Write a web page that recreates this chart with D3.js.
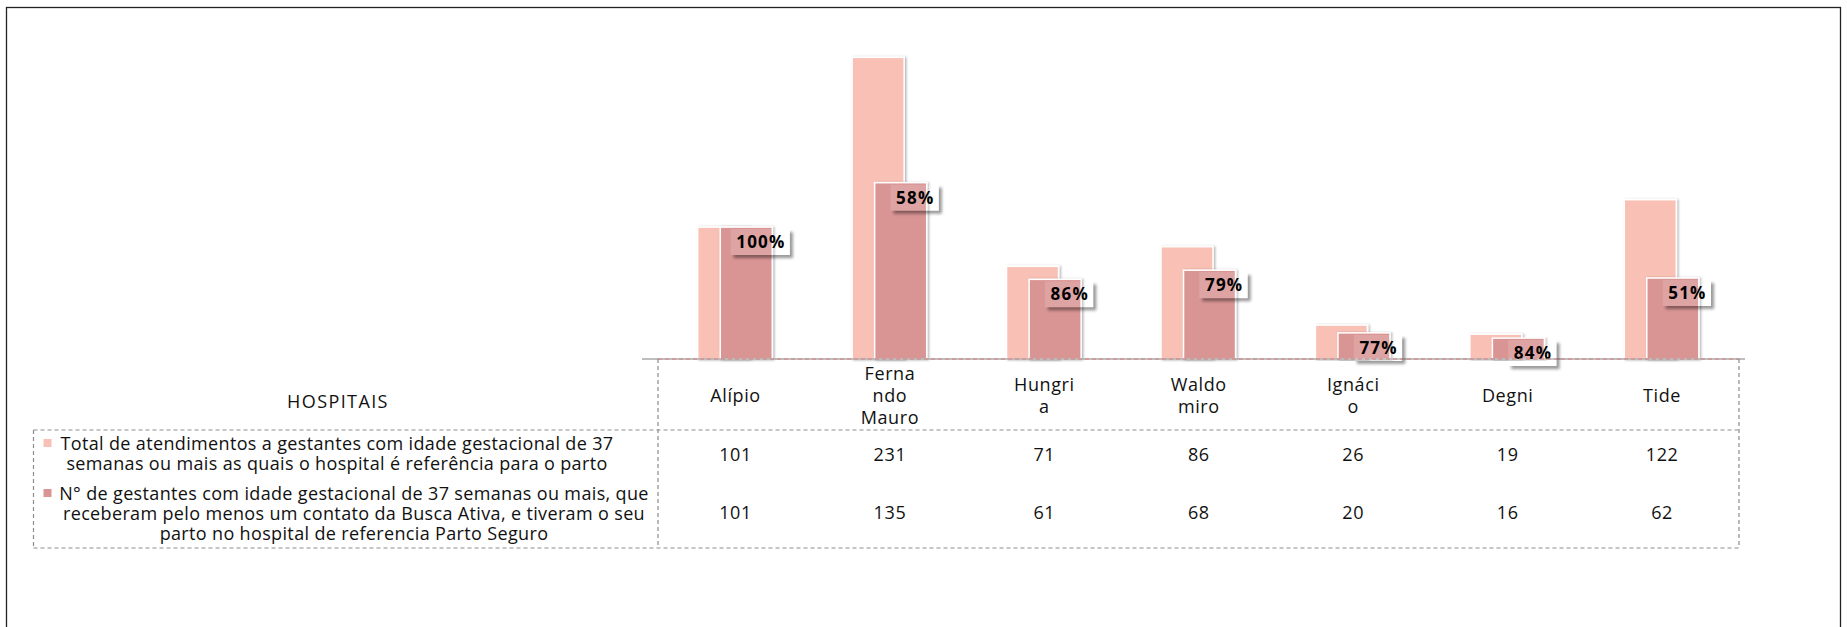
<!DOCTYPE html>
<html>
<head>
<meta charset="utf-8">
<script src="https://cdn.jsdelivr.net/npm/d3@7"></script>
<style>
body { margin: 0; background: #fff; }
svg text { font-family: "Open Sans", sans-serif; fill: #111; }
</style>
</head>
<body>
<div id="chart"></div>
<script>
// categories and the way the table wraps them
const hospitals = ["Alípio", "Fernando Mauro", "Hungria", "Waldomiro", "Ignácio", "Degni", "Tide"];
const hospitalLines = [["Alípio"], ["Ferna", "ndo", "Mauro"], ["Hungri", "a"], ["Waldo", "miro"], ["Ignáci", "o"], ["Degni"], ["Tide"]];

// series
const totalAtend = [101, 231, 71, 86, 26, 19, 122];
const buscaAtiva = [101, 135, 61, 68, 20, 16, 62];

const seriesNames = [
  ["Total de atendimentos a gestantes com idade gestacional de 37",
   "semanas ou mais as quais o hospital é referência para o parto"],
  ["N° de gestantes com idade gestacional de 37 semanas ou mais, que",
   "receberam pelo menos um contato da Busca Ativa, e tiveram o seu",
   "parto no hospital de referencia Parto Seguro"]
];
const axisTitle = "HOSPITAIS";

const colors = ["#F9C1B5", "#D99594"];

const width = 1847, height = 627;

const svg = d3.select('#chart')
.append('svg')
.attr('width', width)
.attr('height', height);

const defs = svg.append('defs');
defs.append('filter').attr('id', 'barShadow').attr('x', '-20%').attr('y', '-5%').attr('width', '140%').attr('height', '110%')
.append('feDropShadow').attr('dx', 1.5).attr('dy', 0.5).attr('stdDeviation', 1).attr('flood-color', '#000').attr('flood-opacity', 0.3);
defs.append('filter').attr('id', 'blur').attr('x', '-20%').attr('y', '-50%').attr('width', '140%').attr('height', '200%')
.append('feGaussianBlur').attr('stdDeviation', 1.6);

// outer frame
svg.append('rect')
.attr('x', 6.5).attr('y', 7.5)
.attr('width', 1834).attr('height', 700)
.attr('fill', 'none')
.attr('stroke', '#222')
.attr('stroke-width', 1.3);

// table / plot geometry
const tableL = 658, tableR = 1739, legendL = 33.5;
const yBase = 359, rowSep = 430, tableB = 548;
const rowY = [455, 513];

const xScale = d3.scaleBand()
.domain(hospitals)
.range([tableL, tableR]);

const yScale = d3.scaleLinear()
.domain([0, 250])
.range([yBase, 32.5]);

const bw = xScale.bandwidth();
const barW = bw * 0.337;
const cx = d => xScale(d) + bw / 2;
const offsets = [-bw * 0.243, -bw * 0.097];

// floor shadow under the plot area
svg.append('line')
.attr('x1', 642).attr('x2', 1752)
.attr('y1', yBase + 2).attr('y2', yBase + 2)
.attr('stroke', '#888')
.attr('stroke-width', 3.5)
.attr('opacity', 0.5)
.attr('filter', 'url(#blur)');

// bars
[totalAtend, buscaAtiva].forEach((vals, s) => {
  svg.append('g')
  .selectAll('rect')
  .data(hospitals)
  .join('rect')
  .attr('x', d => cx(d) + offsets[s])
  .attr('y', (d, i) => yScale(vals[i]))
  .attr('width', barW)
  .attr('height', (d, i) => yBase - yScale(vals[i]))
  .attr('fill', colors[s])
  .attr('stroke', '#fff')
  .attr('stroke-width', 1.5)
  .attr('filter', 'url(#barShadow)');
});

// category axis line
svg.append('line')
.attr('x1', 642).attr('x2', 1745)
.attr('y1', yBase).attr('y2', yBase)
.attr('stroke', '#a8a8a8')
.attr('stroke-width', 1.5);

// percentage labels
const pct = d3.format('.0%');
const labels = svg.append('g')
.selectAll('g')
.data(hospitals)
.join('g')
.attr('transform', (d, i) => `translate(${cx(d) + offsets[1] + barW / 2 + 14},${yScale(buscaAtiva[i]) + 2})`);

labels.each(function(d, i) {
  const g = d3.select(this);
  const t = g.append('text')
  .attr('text-anchor', 'middle')
  .attr('x', 0.6)
  .attr('y', 13)
  .attr('dy', '0.36em')
  .style('font-size', '17px')
  .style('font-weight', 700)
  .style('letter-spacing', '1.2px')
  .style('fill', '#000')
  .text(pct(buscaAtiva[i] / totalAtend[i]));
  const w = t.node().getComputedTextLength() + 10;
  const h = 26;
  defs.append('clipPath').attr('id', 'lc' + i)
  .append('path')
  .attr('clip-rule', 'evenodd')
  .attr('d', `M-300,-300H300V300H-300Z M${-w / 2},0h${w}v${h}h${-w}Z`);
  g.insert('rect', 'text')
  .attr('x', -w / 2 + 3).attr('y', 3)
  .attr('width', w).attr('height', h)
  .attr('fill', '#000')
  .attr('opacity', 0.4)
  .attr('filter', 'url(#blur)')
  .attr('clip-path', `url(#lc${i})`);
  g.insert('rect', 'text')
  .attr('x', -w / 2).attr('y', 0)
  .attr('width', w).attr('height', h)
  .attr('fill', '#fff')
  .attr('fill-opacity', 0.15);
});

// data table lines
const dashed = (x1, y1, x2, y2) => svg.append('line')
.attr('x1', x1).attr('y1', y1).attr('x2', x2).attr('y2', y2)
.attr('stroke', '#8c8c8c')
.attr('stroke-width', 1.2)
.attr('stroke-dasharray', '4,3');

dashed(tableL, yBase, tableR, yBase).attr('stroke', '#d98080');
dashed(tableL, yBase, tableL, tableB);
dashed(tableR, yBase, tableR, tableB);
dashed(legendL, rowSep, tableR, rowSep);
dashed(legendL, tableB, tableR, tableB);
dashed(legendL, rowSep, legendL, tableB);

const fs = '18px';

// category labels
const catG = svg.append('g')
.selectAll('text')
.data(hospitals)
.join('text')
.attr('text-anchor', 'middle')
.style('font-size', fs)
.style('letter-spacing', '0.6px');

catG.each(function(d, i) {
  const lines = hospitalLines[i];
  const top = 396 - (lines.length - 1) * 22 / 2;
  d3.select(this).selectAll('tspan')
  .data(lines)
  .join('tspan')
  .attr('x', cx(d) + 0.3)
  .attr('y', (l, j) => top + j * 22)
  .attr('dy', '0.35em')
  .text(l => l);
});

// values rows
[totalAtend, buscaAtiva].forEach((vals, s) => {
  svg.append('g')
  .selectAll('text')
  .data(hospitals)
  .join('text')
  .attr('x', d => cx(d) + 0.3)
  .attr('y', rowY[s])
  .attr('dy', '0.35em')
  .attr('text-anchor', 'middle')
  .style('font-size', fs)
  .style('letter-spacing', '0.6px')
  .text((d, i) => vals[i]);
});

// axis title
svg.append('text')
.attr('x', 338)
.attr('y', 402)
.attr('dy', '0.35em')
.attr('text-anchor', 'middle')
.style('font-size', fs)
.style('letter-spacing', '1.4px')
.text(axisTitle);

// legend rows with keys
const legendCenters = [337, 354];
const legendTops = [445, 495];
seriesNames.forEach((lines, s) => {
  svg.append('rect')
  .attr('x', 43.5)
  .attr('y', legendTops[s] - 6)
  .attr('width', 8).attr('height', 8)
  .attr('fill', colors[s]);
  svg.append('text')
  .attr('text-anchor', 'middle')
  .style('font-size', fs)
  .style('letter-spacing', '0.35px')
  .selectAll('tspan')
  .data(lines)
  .join('tspan')
  .attr('x', legendCenters[s])
  .attr('y', (l, j) => legendTops[s] + j * 20)
  .attr('dy', '0.3em')
  .text(l => l);
});
</script>
</body>
</html>
